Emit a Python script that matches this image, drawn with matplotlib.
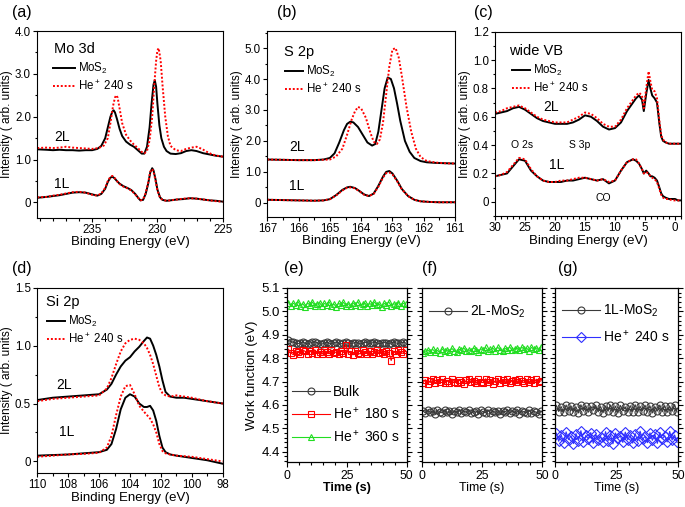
import numpy as np
import matplotlib
matplotlib.use("Agg")
import matplotlib.pyplot as plt
from matplotlib.ticker import MultipleLocator
from matplotlib.lines import Line2D

plt.rcParams["font.family"] = ["Liberation Sans", "DejaVu Sans"]
plt.rcParams["mathtext.fontset"] = "custom"
plt.rcParams["mathtext.rm"] = "Liberation Sans"
plt.rcParams["mathtext.it"] = "Liberation Sans:italic"

W, H = 685, 507
RED = "#ff0000"
GREEN = "#22dd22"
BLUE = "#3030ff"
GREY = "#3a3a3a"

# ---------------- (a) Mo 3d ----------------
a_E_2L_k = [239.2, 238.5, 238, 237.5, 237, 236.5, 236, 235.5, 235, 234.6, 234.3, 234.0, 233.8, 233.6,
            233.45, 233.35, 233.25, 233.1, 232.9, 232.7, 232.4, 232.1, 231.8, 231.5, 231.2, 231.0,
            230.8, 230.6, 230.45, 230.3, 230.2, 230.1, 230.0, 229.85, 229.7, 229.5, 229.3, 229.0,
            228.6, 228.2, 227.8, 227.4, 227.0, 226.5, 226.0, 225.5, 225.0]
a_2L_k = [1.24, 1.23, 1.22, 1.23, 1.22, 1.22, 1.21, 1.22, 1.22, 1.25, 1.32, 1.5, 1.75, 2.0, 2.12, 2.15,
          2.1, 1.95, 1.72, 1.55, 1.42, 1.35, 1.3, 1.22, 1.14, 1.14, 1.3, 1.75, 2.3, 2.75, 2.85, 2.7,
          2.3, 1.8, 1.5, 1.3, 1.2, 1.14, 1.13, 1.15, 1.2, 1.22, 1.2, 1.15, 1.12, 1.09, 1.07]
a_E_2L_r = [239.2, 238.5, 238, 237.5, 237, 236.5, 236, 235.5, 235, 234.5, 234.1, 233.8, 233.6, 233.4,
            233.25, 233.15, 233.05, 232.9, 232.7, 232.4, 232.1, 231.8, 231.5, 231.2, 231.0, 230.8,
            230.6, 230.4, 230.25, 230.1, 230.0, 229.9, 229.75, 229.6, 229.4, 229.2, 229.0, 228.6,
            228.2, 227.8, 227.4, 227.0, 226.6, 226.2, 225.8, 225.4, 225.0]
a_2L_r = [1.27, 1.28, 1.27, 1.28, 1.3, 1.28, 1.27, 1.26, 1.25, 1.27, 1.33, 1.5, 1.85, 2.25, 2.45, 2.5,
          2.45, 2.2, 1.85, 1.58, 1.45, 1.35, 1.27, 1.18, 1.15, 1.2, 1.45, 2.0, 2.7, 3.3, 3.55, 3.6,
          3.3, 2.7, 2.0, 1.55, 1.32, 1.22, 1.2, 1.25, 1.28, 1.3, 1.25, 1.18, 1.12, 1.09, 1.07]
a_E_1L = [239.2, 238.5, 238, 237.5, 237, 236.5, 236, 235.5, 235, 234.6, 234.3, 234, 233.8, 233.6,
          233.45, 233.3, 233.1, 232.9, 232.6, 232.3, 232.0, 231.7, 231.45, 231.3, 231.1, 230.9,
          230.7, 230.55, 230.4, 230.3, 230.15, 230.0, 229.8, 229.6, 229.3, 229.0, 228.5, 228.0,
          227.5, 227.0, 226.5, 226.0, 225.5, 225.0]
a_1L_k = [0.11, 0.13, 0.15, 0.17, 0.2, 0.23, 0.24, 0.23, 0.19, 0.16, 0.2, 0.32, 0.48, 0.58, 0.6, 0.57,
          0.5, 0.44, 0.38, 0.34, 0.29, 0.2, 0.1, 0.05, 0.06, 0.2, 0.45, 0.7, 0.8, 0.75, 0.55, 0.3,
          0.12, 0.06, 0.04, 0.05, 0.07, 0.08, 0.1, 0.09, 0.07, 0.05, 0.04, 0.02]
a_1L_r = [0.12, 0.13, 0.16, 0.18, 0.21, 0.24, 0.25, 0.23, 0.18, 0.16, 0.21, 0.34, 0.5, 0.6, 0.62, 0.58,
          0.5, 0.43, 0.37, 0.33, 0.28, 0.19, 0.1, 0.05, 0.07, 0.22, 0.48, 0.72, 0.78, 0.72, 0.52, 0.28,
          0.11, 0.06, 0.04, 0.05, 0.07, 0.09, 0.1, 0.09, 0.07, 0.05, 0.03, 0.02]

# ---------------- (b) S 2p ----------------
b_E_2L_k = [167.0, 166.5, 166.0, 165.5, 165.2, 165.0, 164.85, 164.7, 164.55, 164.45, 164.35, 164.25,
            164.1, 163.95, 163.8, 163.65, 163.55, 163.45, 163.35, 163.25, 163.15, 163.05, 162.95,
            162.85, 162.75, 162.6, 162.45, 162.3, 162.1, 161.9, 161.6, 161.3, 161.0]
b_2L_k = [1.4, 1.39, 1.38, 1.38, 1.4, 1.45, 1.6, 1.95, 2.35, 2.55, 2.62, 2.6, 2.45, 2.2, 1.95, 1.85,
          1.9, 2.3, 3.0, 3.7, 4.05, 4.0, 3.7, 3.2, 2.65, 2.0, 1.65, 1.45, 1.35, 1.31, 1.29, 1.28, 1.27]
b_E_2L_r = [167.0, 166.5, 166.0, 165.5, 165.0, 164.8, 164.6, 164.45, 164.3, 164.2, 164.1, 164.0,
            163.85, 163.7, 163.6, 163.5, 163.4, 163.3, 163.2, 163.1, 163.0, 162.9, 162.8, 162.7,
            162.55, 162.4, 162.25, 162.1, 161.9, 161.6, 161.3, 161.0]
b_2L_r = [1.4, 1.39, 1.38, 1.38, 1.4, 1.5, 1.75, 2.2, 2.7, 2.95, 3.1, 3.05, 2.75, 2.25, 1.98, 1.9,
          2.05, 2.6, 3.5, 4.4, 4.95, 5.0, 4.7, 4.1, 3.1, 2.3, 1.75, 1.48, 1.35, 1.3, 1.28, 1.27]
b_E_1L = [167, 166.5, 166, 165.5, 165.2, 165, 164.8, 164.6, 164.45, 164.35, 164.2, 164.05, 163.9,
          163.75, 163.6, 163.45, 163.3, 163.2, 163.1, 163.0, 162.85, 162.7, 162.5, 162.3, 162.1,
          161.8, 161.5, 161.0]
b_1L_k = [0.1, 0.09, 0.08, 0.07, 0.08, 0.12, 0.25, 0.42, 0.5, 0.52, 0.48, 0.38, 0.27, 0.22, 0.3,
          0.55, 0.85, 1.0, 1.03, 0.95, 0.72, 0.45, 0.22, 0.1, 0.05, 0.03, 0.02, 0.02]
b_1L_r = [0.1, 0.09, 0.08, 0.07, 0.08, 0.12, 0.24, 0.4, 0.49, 0.5, 0.47, 0.37, 0.26, 0.22, 0.29,
          0.52, 0.82, 0.96, 0.98, 0.92, 0.7, 0.44, 0.22, 0.1, 0.05, 0.03, 0.02, 0.02]

# ---------------- (c) wide VB ----------------
c_E = [30, 29, 28, 27, 26, 25, 24, 23, 22, 21, 20, 19, 18, 17, 16, 15, 14, 13, 12, 11, 10, 9, 8, 7,
       6.5, 6, 5.5, 5.2, 4.8, 4.4, 4.1, 3.8, 3.4, 3.0, 2.6, 2.3, 2.0, 1.6, 1.0, 0.5, 0, -0.5, -1]
c_2L_k = [0.62, 0.63, 0.64, 0.66, 0.67, 0.65, 0.62, 0.59, 0.57, 0.56, 0.55, 0.55, 0.55, 0.56, 0.58,
          0.61, 0.6, 0.57, 0.53, 0.51, 0.52, 0.56, 0.64, 0.7, 0.73, 0.75, 0.72, 0.64, 0.76, 0.86,
          0.8, 0.75, 0.73, 0.7, 0.55, 0.46, 0.43, 0.42, 0.41, 0.41, 0.41, 0.41, 0.41]
c_2L_r = [0.63, 0.64, 0.66, 0.67, 0.68, 0.66, 0.63, 0.6, 0.58, 0.57, 0.56, 0.56, 0.56, 0.58, 0.6,
          0.63, 0.62, 0.59, 0.55, 0.53, 0.53, 0.58, 0.66, 0.72, 0.75, 0.77, 0.75, 0.66, 0.8, 0.92,
          0.85, 0.79, 0.78, 0.73, 0.57, 0.47, 0.44, 0.42, 0.41, 0.41, 0.41, 0.41, 0.41]
c_1L_k = [0.18, 0.19, 0.2, 0.25, 0.3, 0.29, 0.22, 0.18, 0.15, 0.14, 0.14, 0.14, 0.15, 0.15, 0.16,
          0.17, 0.16, 0.15, 0.16, 0.13, 0.15, 0.22, 0.28, 0.3, 0.29, 0.27, 0.23, 0.2, 0.22, 0.2,
          0.18, 0.18, 0.17, 0.15, 0.1, 0.06, 0.04, 0.03, 0.02, 0.02, 0.02, 0.01, 0.01]
c_1L_r = [0.18, 0.19, 0.21, 0.26, 0.31, 0.3, 0.23, 0.18, 0.15, 0.14, 0.14, 0.15, 0.15, 0.16, 0.17,
          0.17, 0.16, 0.15, 0.16, 0.14, 0.15, 0.22, 0.28, 0.3, 0.3, 0.27, 0.23, 0.2, 0.21, 0.2,
          0.18, 0.17, 0.16, 0.14, 0.09, 0.05, 0.03, 0.02, 0.02, 0.01, 0.01, 0.01, 0.01]

# ---------------- (d) Si 2p ----------------
d_E = [110, 109, 108, 107, 106, 105.5, 105.2, 104.9, 104.6, 104.3, 104.0, 103.7, 103.4, 103.1,
       102.9, 102.7, 102.5, 102.3, 102.1, 101.9, 101.7, 101.4, 101.0, 100.5, 100, 99, 98]
d_2L_k = [0.53, 0.55, 0.56, 0.57, 0.58, 0.62, 0.67, 0.75, 0.82, 0.87, 0.9, 0.95, 0.99, 1.04, 1.07,
          1.06, 1.0, 0.92, 0.82, 0.7, 0.6, 0.56, 0.55, 0.55, 0.54, 0.52, 0.5]
d_2L_r = [0.52, 0.54, 0.55, 0.56, 0.57, 0.63, 0.72, 0.84, 0.95, 1.02, 1.05, 1.06, 1.05, 1.02, 0.98,
          0.92, 0.84, 0.74, 0.64, 0.59, 0.57, 0.56, 0.57, 0.56, 0.55, 0.52, 0.5]
d_1L_k = [0.05, 0.055, 0.06, 0.07, 0.08, 0.1, 0.15, 0.28, 0.45, 0.55, 0.58, 0.56, 0.5, 0.47, 0.47,
          0.48, 0.44, 0.35, 0.22, 0.12, 0.08, 0.06, 0.05, 0.04, 0.03, 0.01, -0.02]
d_1L_r = [0.04, 0.05, 0.06, 0.065, 0.075, 0.12, 0.22, 0.4, 0.56, 0.65, 0.66, 0.58, 0.48, 0.43, 0.4,
          0.37, 0.32, 0.25, 0.15, 0.09, 0.07, 0.06, 0.05, 0.045, 0.04, 0.02, 0.0]

# ---------------- (e)-(g) work function vs time ----------------
t = np.arange(0.5, 50, 1.0)
wf_bulk_e = [4.876, 4.871, 4.868, 4.865, 4.862, 4.866, 4.869, 4.864, 4.861, 4.865,
             4.868, 4.870, 4.866, 4.862, 4.860, 4.865, 4.868, 4.864, 4.862, 4.866,
             4.869, 4.863, 4.861, 4.865, 4.868, 4.866, 4.862, 4.864, 4.867, 4.865,
             4.861, 4.864, 4.868, 4.866, 4.863, 4.865, 4.869, 4.866, 4.862, 4.864,
             4.867, 4.865, 4.862, 4.866, 4.869, 4.865, 4.863, 4.866, 4.868, 4.865]
wf_he180_e = [4.838, 4.822, 4.815, 4.832, 4.826, 4.818, 4.835, 4.829, 4.816, 4.83,
              4.824, 4.836, 4.82, 4.828, 4.817, 4.833, 4.825, 4.819, 4.834, 4.822,
              4.827, 4.816, 4.831, 4.824, 4.858, 4.82, 4.829, 4.815, 4.832, 4.823,
              4.818, 4.834, 4.826, 4.82, 4.83, 4.817, 4.828, 4.835, 4.821, 4.826,
              4.818, 4.832, 4.824, 4.79, 4.83, 4.819, 4.836, 4.825, 4.82, 4.833]
wf_he360_e = [5.038, 5.022, 5.035, 5.028, 5.042, 5.025, 5.033, 5.019, 5.036, 5.027,
              5.04, 5.024, 5.031, 5.038, 5.022, 5.034, 5.029, 5.041, 5.023, 5.032,
              5.018, 5.035, 5.027, 5.039, 5.025, 5.033, 5.021, 5.037, 5.028, 5.042,
              5.024, 5.031, 5.036, 5.022, 5.034, 5.027, 5.04, 5.026, 5.032, 5.019,
              5.035, 5.028, 5.041, 5.024, 5.033, 5.029, 5.038, 5.023, 5.035, 5.03]
wf_2L_f = [4.575, 4.566, 4.578, 4.569, 4.574, 4.563, 4.577, 4.571, 4.566, 4.579,
           4.568, 4.575, 4.562, 4.573, 4.57, 4.578, 4.565, 4.574, 4.569, 4.58,
           4.566, 4.572, 4.575, 4.563, 4.577, 4.57, 4.567, 4.579, 4.564, 4.573,
           4.569, 4.576, 4.562, 4.574, 4.571, 4.578, 4.566, 4.573, 4.568, 4.577,
           4.563, 4.575, 4.57, 4.567, 4.578, 4.565, 4.573, 4.569, 4.562, 4.574]
wf_he180_f = [4.695, 4.708, 4.69, 4.702, 4.712, 4.693, 4.705, 4.698, 4.71, 4.692,
              4.703, 4.696, 4.711, 4.7, 4.694, 4.707, 4.699, 4.69, 4.706, 4.713,
              4.697, 4.703, 4.692, 4.709, 4.7, 4.695, 4.712, 4.698, 4.705, 4.691,
              4.703, 4.71, 4.696, 4.706, 4.699, 4.711, 4.694, 4.704, 4.708, 4.697,
              4.713, 4.702, 4.695, 4.709, 4.7, 4.706, 4.693, 4.71, 4.698, 4.704]
wf_he360_f = [4.822, 4.83, 4.835, 4.826, 4.838, 4.828, 4.833, 4.824, 4.84, 4.829,
              4.836, 4.827, 4.842, 4.831, 4.826, 4.838, 4.833, 4.844, 4.829, 4.836,
              4.83, 4.845, 4.834, 4.828, 4.84, 4.835, 4.846, 4.831, 4.838, 4.843,
              4.832, 4.847, 4.836, 4.83, 4.842, 4.837, 4.848, 4.833, 4.84, 4.845,
              4.834, 4.847, 4.838, 4.843, 4.832, 4.846, 4.839, 4.844, 4.835, 4.848]
wf_1L_g = [4.598, 4.572, 4.593, 4.568, 4.6, 4.575, 4.596, 4.57, 4.592, 4.566,
           4.601, 4.574, 4.597, 4.569, 4.594, 4.577, 4.599, 4.571, 4.593, 4.567,
           4.596, 4.573, 4.6, 4.57, 4.595, 4.566, 4.598, 4.575, 4.592, 4.569,
           4.597, 4.572, 4.601, 4.568, 4.594, 4.576, 4.599, 4.57, 4.596, 4.566,
           4.593, 4.574, 4.6, 4.571, 4.597, 4.568, 4.595, 4.573, 4.602, 4.57]
wf_he240_g = [4.48, 4.445, 4.472, 4.438, 4.485, 4.452, 4.468, 4.435, 4.478, 4.448,
              4.49, 4.44, 4.47, 4.455, 4.482, 4.436, 4.475, 4.45, 4.465, 4.442,
              4.486, 4.447, 4.473, 4.434, 4.48, 4.458, 4.468, 4.44, 4.484, 4.451,
              4.47, 4.437, 4.478, 4.446, 4.488, 4.453, 4.466, 4.439, 4.481, 4.449,
              4.474, 4.436, 4.483, 4.455, 4.469, 4.442, 4.487, 4.45, 4.472, 4.44]


def fx(x):
    return x / W


def fy(y):
    return 1 - y / H


def add_axes(l, t_, r, b):
    return fig.add_axes([fx(l), fy(b), (r - l) / W, (b - t_) / H])


fig = plt.figure(figsize=(W / 100, H / 100), dpi=100)


def spectrum_panel(ax, xlim, ylim, xmaj, xmin, ymaj, ymin, yfmt):
    ax.set_xlim(*xlim)
    ax.set_ylim(*ylim)
    ax.xaxis.set_major_locator(MultipleLocator(xmaj))
    ax.xaxis.set_minor_locator(MultipleLocator(xmin))
    ax.yaxis.set_major_locator(MultipleLocator(ymaj))
    ax.yaxis.set_minor_locator(MultipleLocator(ymin))
    ax.yaxis.set_major_formatter(plt.FuncFormatter(lambda v, p: "0" if abs(v) < 1e-9 else yfmt.format(v)))
    ax.tick_params(which="both", direction="out", labelsize=8.3, pad=1.5, width=0.8)
    ax.tick_params(which="major", length=3)
    ax.tick_params(which="minor", length=1.8)
    for s in ax.spines.values():
        s.set_linewidth(0.8)
    ax.set_xlabel("Binding Energy (eV)", fontsize=9.5, labelpad=0.5)
    ax.set_ylabel("Intensity ( arb. units)", fontsize=8.6, labelpad=1.5)


def spectrum_legend(ax, x, y, hl):
    h = [Line2D([], [], color="black", lw=1.4),
         Line2D([], [], color=RED, lw=1.4, ls=(0, (1, 1)))]
    ax.legend(h, ["MoS$_2$", "He$^+$ 240 s"], loc="upper left",
              bbox_to_anchor=(fx(x), fy(y)), bbox_transform=fig.transFigure,
              frameon=False, fontsize=8.3, borderpad=0, borderaxespad=0,
              handlelength=hl, handletextpad=0.3, labelspacing=0.25)


def draw_pair(ax, Ek, yk, Er, yr):
    ax.plot(Ek, yk, color="black", lw=1.4)
    ax.plot(Er, yr, color=RED, lw=1.4, ls=(0, (1, 1)))


def ftext(s, x, y, size, **kw):
    fig.text(fx(x), fy(y), s, fontsize=size, ha="left", va="center", **kw)


# (a)
ax = add_axes(37.3, 31, 222.7, 217.5)
draw_pair(ax, a_E_2L_k, a_2L_k, a_E_2L_r, a_2L_r)
draw_pair(ax, a_E_1L, a_1L_k, a_E_1L, a_1L_r)
spectrum_panel(ax, (239.2, 225), (-0.35, 4.0), 5, 1, 1.0, 0.5, "{:.1f}")
spectrum_legend(ax, 53, 61, 1.9)
ftext("Mo 3d", 54, 49, 10.5)
ftext("2L", 54, 137, 10)
ftext("1L", 54, 184, 10)

# (b)
ax = add_axes(267.3, 31, 455, 216.5)
draw_pair(ax, b_E_2L_k, b_2L_k, b_E_2L_r, b_2L_r)
draw_pair(ax, b_E_1L, b_1L_k, b_E_1L, b_1L_r)
spectrum_panel(ax, (167, 161), (-0.44, 5.55), 1, 0.5, 1.0, 0.5, "{:.1f}")
spectrum_legend(ax, 285, 64, 1.55)
ftext("S 2p", 284, 52, 10.5)
ftext("2L", 289, 147, 10)
ftext("1L", 289, 186, 10)

# (c)
ax = add_axes(495, 31.7, 681, 216)
draw_pair(ax, c_E, c_2L_k, c_E, c_2L_r)
draw_pair(ax, c_E, c_1L_k, c_E, c_1L_r)
spectrum_panel(ax, (30, -1), (-0.1, 1.2), 5, 1, 0.2, 0.1, "{:.1f}")
spectrum_legend(ax, 512, 63, 1.55)
ftext("wide VB", 509, 51, 10.5)
ftext("2L", 543, 107, 10)
ftext("1L", 549, 165, 10)
ftext("O 2s", 511, 145, 7.5)
ftext("S 3p", 569, 145, 7.5)
ftext("CO", 595, 198, 7.5)

# (d)
ax = add_axes(37.3, 287.7, 222.7, 473)
draw_pair(ax, d_E, d_2L_k, d_E, d_2L_r)
draw_pair(ax, d_E, d_1L_k, d_E, d_1L_r)
spectrum_panel(ax, (110, 98), (-0.1, 1.5), 2, 1, 0.5, 0.25, "{:.1f}")
spectrum_legend(ax, 47, 314, 1.55)
ftext("Si 2p", 46, 302, 10.5)
ftext("2L", 56, 385, 10)
ftext("1L", 59, 432, 10)

# (e)-(g)
wf_axes = []
for (l, r) in [(287.3, 406.7), (421.7, 542.3), (555, 678.3)]:
    ax = add_axes(l, 288, r, 462.3)
    ax.set_xlim(0, 50)
    ax.set_ylim(4.355, 5.1)
    ax.xaxis.set_major_locator(MultipleLocator(25))
    ax.xaxis.set_minor_locator(MultipleLocator(5))
    ax.yaxis.set_major_locator(MultipleLocator(0.1))
    ax.yaxis.set_minor_locator(MultipleLocator(0.02))
    ax.tick_params(which="both", direction="out", right=True, labelsize=8.8, pad=2, width=0.8)
    ax.tick_params(which="major", length=3.5)
    ax.tick_params(which="minor", length=2)
    for s in ax.spines.values():
        s.set_linewidth(0.9)
    wf_axes.append(ax)

mk = dict(ms=5, mfc="none", mew=0.8, lw=0.8)


def wf_plot(ax, y, color, marker, label=None):
    return ax.plot(t, y, color=color, marker=marker, mec=color, label=label, **mk)[0]


ax_e, ax_f, ax_g = wf_axes
h1 = wf_plot(ax_e, wf_bulk_e, GREY, "o")
h2 = wf_plot(ax_e, wf_he180_e, RED, "s")
h3 = wf_plot(ax_e, wf_he360_e, GREEN, "^")
ax_e.set_yticks([4.4, 4.5, 4.6, 4.7, 4.8, 4.9, 5.0, 5.1])
ax_e.set_yticklabels(["4.4", "4.5", "4.6", "4.7", "4.8", "4.9", "5.0", "5.1"], fontsize=9.5)
ax_e.set_ylabel("Work function (eV)", fontsize=9.5, labelpad=2)
ax_e.set_xlabel("Time (s)", fontsize=9, fontweight="bold", labelpad=0)
ax_e.set_xticks([0, 25, 50])
ax_e.set_xticklabels(["0", "25", "50"])
ax_e.legend([h1, h2, h3], ["Bulk", "He$^+$ 180 s", "He$^+$ 360 s"], loc="upper left",
            bbox_to_anchor=(fx(292), fy(385)), bbox_transform=fig.transFigure,
            frameon=False, fontsize=10, borderpad=0, borderaxespad=0,
            handlelength=2.7, handletextpad=0.25, labelspacing=0.5)

g1 = wf_plot(ax_f, wf_2L_f, GREY, "o")
wf_plot(ax_f, wf_he180_f, RED, "s")
wf_plot(ax_f, wf_he360_f, GREEN, "^")
ax_f.set_yticklabels([])
ax_f.set_xlabel("Time (s)", fontsize=9, labelpad=0)
ax_f.set_xticks([0, 25, 50])
ax_f.set_xticklabels(["0", "25", "50"])
ax_f.legend([g1], ["2L-MoS$_2$"], loc="upper left",
            bbox_to_anchor=(fx(429), fy(304)), bbox_transform=fig.transFigure,
            frameon=False, fontsize=10, borderpad=0, borderaxespad=0,
            handlelength=2.7, handletextpad=0.25)

k1 = wf_plot(ax_g, wf_1L_g, GREY, "o")
k2 = wf_plot(ax_g, wf_he240_g, BLUE, "D")
ax_g.set_yticklabels([])
ax_g.set_xlabel("Time (s)", fontsize=9, labelpad=0)
ax_g.set_xticks([0, 25, 50])
ax_g.set_xticklabels(["0", "25", "50"])
ax_g.legend([k1, k2], ["1L-MoS$_2$", "He$^+$ 240 s"], loc="upper left",
            bbox_to_anchor=(fx(562), fy(303)), bbox_transform=fig.transFigure,
            frameon=False, fontsize=10, borderpad=0, borderaxespad=0,
            handlelength=2.7, handletextpad=0.25, labelspacing=0.65)

# panel letters
for s, x, y in [("(a)", 12, 12), ("(b)", 277, 12), ("(c)", 474, 12), ("(d)", 12, 268),
                ("(e)", 284, 269), ("(f)", 422, 269), ("(g)", 558, 269)]:
    ftext(s, x, y, 11.5)

fig.savefig("out.png", dpi=100)
